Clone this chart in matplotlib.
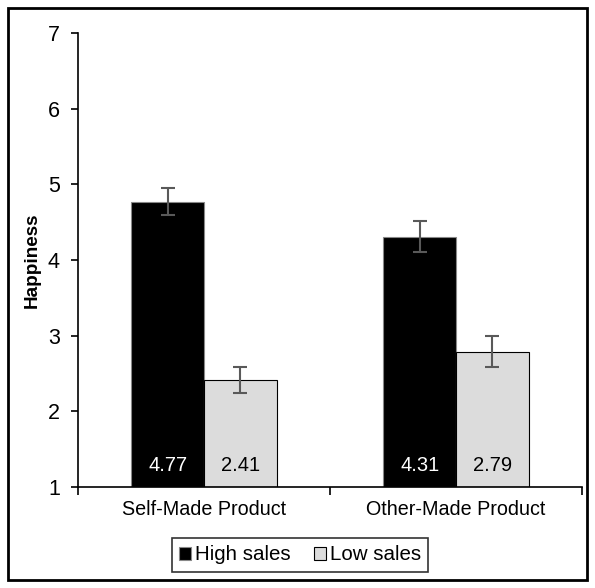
import numpy as np
import matplotlib.pyplot as plt
from matplotlib.patches import Rectangle

plt.rcParams['font.family'] = ['Liberation Sans', 'DejaVu Sans']

# data
categories = ['Self-Made Product', 'Other-Made Product']
series_names = ['High sales', 'Low sales']
high_vals = [4.77, 4.31]
low_vals = [2.41, 2.79]
high_err = [0.18, 0.20]
low_err = [0.17, 0.20]
yticks = [1, 2, 3, 4, 5, 6, 7]

fig = plt.figure(figsize=(5.95, 5.88), dpi=100)
ax = fig.add_axes([78 / 595, 1 - 487 / 588, 504 / 595, 454 / 588])

x = np.arange(len(categories))
w = 0.288
err_kw = dict(ecolor='#595959', elinewidth=1.5, capsize=5, capthick=1.5)

b1 = ax.bar(x - w / 2, np.array(high_vals) - 1, w, bottom=1, color='black',
            edgecolor='#888888', linewidth=0.8, yerr=high_err,
            error_kw=err_kw, label=series_names[0])
b2 = ax.bar(x + w / 2, np.array(low_vals) - 1, w, bottom=1, color='#dcdcdc',
            edgecolor='black', linewidth=0.8, yerr=low_err,
            error_kw=err_kw, label=series_names[1])

# value labels at bottom of bars
for xi, v in zip(x - w / 2, high_vals):
    ax.text(xi, 1.29, f'{v:.2f}', ha='center', va='center', color='white', fontsize=14.5)
for xi, v in zip(x + w / 2, low_vals):
    ax.text(xi, 1.29, f'{v:.2f}', ha='center', va='center', color='black', fontsize=14.5)

ax.set_xlim(-0.5, 1.5)
ax.set_ylim(1, 7)
ax.set_yticks(yticks)
ax.set_yticklabels([str(t) for t in yticks], fontsize=15.5)
ax.set_xticks([-0.5, 0.5, 1.5])
ax.set_xticklabels(['', '', ''])
ax.tick_params(axis='x', length=6, width=1.2, direction='out')
ax.tick_params(axis='y', length=5, width=1.2, direction='out', pad=8)
for xi, c in zip(x, categories):
    ax.text(xi, -0.05, c, transform=ax.get_xaxis_transform(), ha='center',
            va='center', fontsize=14.2)

ax.spines['top'].set_visible(False)
ax.spines['right'].set_visible(False)
ax.spines['left'].set_linewidth(1.2)
ax.spines['bottom'].set_linewidth(1.2)

ax.set_ylabel('Happiness', fontsize=13.6, fontweight='bold')
ax.yaxis.set_label_coords(-0.074, 0.5)

leg = fig.legend(handles=[b1, b2], labels=series_names, loc='center',
                 bbox_to_anchor=(300 / 595, 1 - 555 / 588), ncol=2,
                 frameon=True, fancybox=False, fontsize=14.8,
                 handlelength=0.6, handleheight=0.6, handletextpad=0.2,
                 columnspacing=1.1, borderpad=0.35)
leg.get_frame().set_edgecolor('black')
leg.get_frame().set_linewidth(1.2)

# outer border
fig.patches.append(Rectangle((8 / 595, 8 / 588), 579 / 595, 572 / 588,
                             transform=fig.transFigure, fill=False,
                             edgecolor='black', linewidth=2))

fig.savefig('out.png', dpi=100)
